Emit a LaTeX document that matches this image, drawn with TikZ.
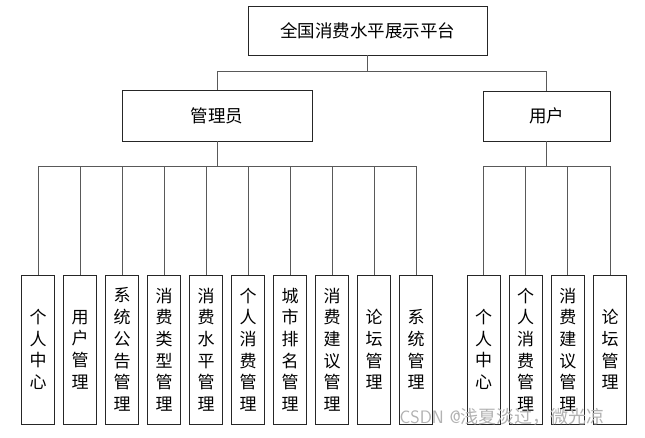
\documentclass[tikz,border=0pt]{standalone}
\usepackage{fontspec}
\newfontfamily\cjk{Noto Sans CJK SC}
\usetikzlibrary{positioning}

\begin{document}
\begin{tikzpicture}[
  x=1pt, y=1pt,
  font=\cjk\fontsize{17.5}{20}\selectfont,
  box/.style={draw=black!85, fill=white, line width=0.8pt,
    inner sep=0pt, align=center},
  leaf/.style={box, minimum width=33, minimum height=149,
    font=\cjk\fontsize{17}{21.7}\selectfont},
  link/.style={draw=black!65, line width=1pt},
  wmark/.style={font=\fontsize{18}{18}\selectfont\sffamily, text=black!30},
]
\useasboundingbox (0,0) rectangle (645,-437);

% ===== ROW 1: PLATFORM (y=-30) =====
\node[box, minimum width=239, minimum height=49] (root) at (367.5,-30.5) {全国消费水平展示平台};

% ===== ROW 2: ROLES (y=-116) =====
\node[box, minimum width=190, minimum height=51] (admin) at (217,-115.5) {管理员};
\node[box, minimum width=127, minimum height=50] (user)  at (546.5,-116) {用户};

% ===== ROW 3: ADMIN MODULES =====
\foreach \i/\txt in {1/个\\人\\中\\心, 2/用\\户\\管\\理, 3/系\\统\\公\\告\\管\\理,
    4/消\\费\\类\\型\\管\\理, 5/消\\费\\水\\平\\管\\理, 6/个\\人\\消\\费\\管\\理,
    7/城\\市\\排\\名\\管\\理, 8/消\\费\\建\\议\\管\\理, 9/论\\坛\\管\\理,
    10/系\\统\\管\\理}
  \node[leaf] (a\i) at ({38+42*(\i-1)},-349.5) {\txt};

% ===== ROW 3: USER MODULES =====
\foreach \i/\txt in {1/个\\人\\中\\心, 2/个\\人\\消\\费\\管\\理,
    3/消\\费\\建\\议\\管\\理, 4/论\\坛\\管\\理}
  \node[leaf] (u\i) at ({483.5+42.2*(\i-1)},-349.5) {\txt};

% ===== ARROWS: Platform -> Roles =====
\draw[link] (root.south) -- ++(0,-16) -| (admin.north);
\draw[link] (root.south) -- ++(0,-16) -| (user.north);

% ===== ARROWS: Roles -> Modules =====
\foreach \i in {1,...,10}
  \draw[link] (admin.south) -- ++(0,-25) -| (a\i.north);
\foreach \i in {1,...,4}
  \draw[link] (user.south) -- ++(0,-25) -| (u\i.north);

% ===== WATERMARK =====
\node[wmark, anchor=base west] (wm) at (396,-423) {CSDN @{\cjk 浅夏淡过，微光凉}};

\end{tikzpicture}
\end{document}
